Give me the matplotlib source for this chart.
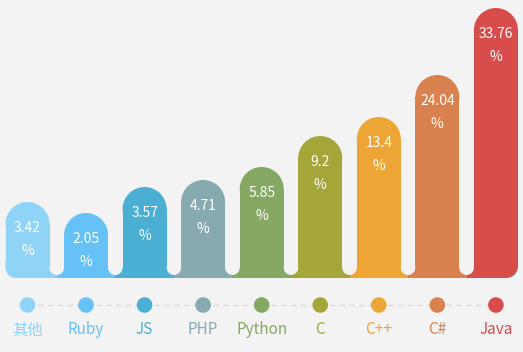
import matplotlib.pyplot as plt
from matplotlib.patches import Circle, FancyBboxPatch
import numpy as np

plt.rcParams['font.family'] = ['Noto Sans CJK SC', 'DejaVu Sans']

# data
languages = ['其他', 'Ruby', 'JS', 'PHP', 'Python', 'C', 'C++', 'C#', 'Java']
shares = [3.42, 2.05, 3.57, 4.71, 5.85, 9.2, 13.4, 24.04, 33.76]
# drawn bar heights (the picture does not scale them linearly with the share)
bar_heights = [76, 65, 91, 98, 111, 142, 161, 203, 270]
colors = ['#8fd3f6', '#66c1f6', '#4aafd2', '#86aaaf', '#85a862',
          '#a4a63a', '#eda636', '#d9824f', '#d94c4c']

bg = '#f3f3f3'
W, H = 523, 352

fig = plt.figure(figsize=(W / 100, H / 100), dpi=100, facecolor=bg)
ax = fig.add_axes([0, 0, 1, 1])
ax.set_xlim(0, W)
ax.set_ylim(0, H)
ax.set_facecolor(bg)
ax.axis('off')

n = len(languages)
pitch = 58.55
xs = 27.5 + pitch * np.arange(n)
w = 44
r = w / 2
gap = pitch - w
base = 74        # bar baseline
dot_y = 47
label_y = 22
rc = 12          # outer corner radius

# joined base strip with rounded outer corners
strip = FancyBboxPatch((xs[0] - r, base), xs[-1] - xs[0] + w, 28,
                       boxstyle=f'round,pad=0,rounding_size={rc}',
                       fc=colors[0], ec='none', zorder=1)
ax.add_patch(strip)
# colour each bar's part of the strip
for i in range(n):
    left = xs[i] - pitch / 2 if i > 0 else xs[i] - r + rc
    right = xs[i] + pitch / 2 if i < n - 1 else xs[i] + r - rc
    ax.bar((left + right) / 2, 28, width=right - left, bottom=base,
           color=colors[i], zorder=1.5, linewidth=0)
# rounded outer corners of first and last bar
for i, cx in [(0, xs[0] - r + rc), (n - 1, xs[-1] + r - rc)]:
    ax.add_patch(Circle((cx, base + rc), rc, fc=colors[i], ec='none', zorder=1.5))
    ax.bar(cx, 16, width=2 * rc, bottom=base + rc, color=colors[i], zorder=1.5, linewidth=0)

# bars with dome tops
for i in range(n):
    h = bar_heights[i]
    ax.bar(xs[i], h - r - rc, width=w, bottom=base + rc, color=colors[i],
           zorder=2, linewidth=0)
    ax.add_patch(Circle((xs[i], base + h - r), r, fc=colors[i], ec='none', zorder=2))
    top = base + h
    ax.text(xs[i], top - 26, f'{shares[i]:g}', color='white', fontsize=10,
            ha='center', va='center', zorder=4)
    ax.text(xs[i], top - 49, '%', color='white', fontsize=10,
            ha='center', va='center', zorder=4)

# notches between bars
for i in range(n - 1):
    gx = (xs[i] + xs[i + 1]) / 2
    cy = base + 3 + gap / 2
    ax.add_patch(Circle((gx, cy), gap / 2, fc=bg, ec='none', zorder=3))
    ax.bar(gx, 40, width=gap, bottom=cy, color=bg, zorder=3, linewidth=0)

# dotted connector with dots and labels
ax.plot([xs[0], xs[-1]], [dot_y, dot_y], color='#d9d9d9', lw=1,
        ls=(0, (4, 3)), zorder=1)
for i in range(n):
    ax.add_patch(Circle((xs[i], dot_y), 7.8, fc=colors[i], ec='none', zorder=2))
    ax.text(xs[i], label_y, languages[i], color=colors[i], fontsize=11,
            ha='center', va='center')

fig.savefig('out.png', dpi=100, facecolor=bg)
